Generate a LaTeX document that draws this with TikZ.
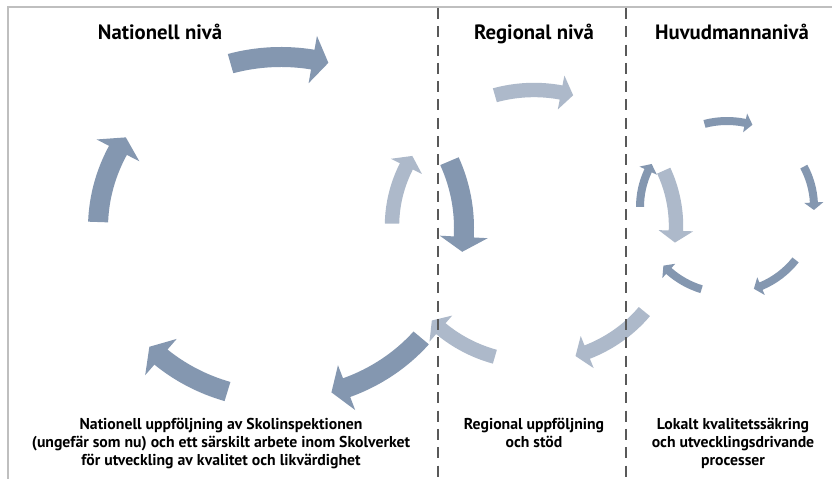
\documentclass[tikz,border=0pt]{standalone}
\usepackage{fontspec}
\setmainfont{PT Sans}
\definecolor{ringdark}{HTML}{8497B0}
\definecolor{ringlight}{HTML}{ADB9CA}
\definecolor{divider}{HTML}{595959}
\definecolor{framegray}{HTML}{BFBFBF}

% one curved arrow on an elliptic ring:
% centre x, centre y, x radius, y radius, half width, tail angle, tip angle, colour
\newcommand{\ringarrow}[8]{%
  \pgfmathsetmacro\arRo{#3+#5}\pgfmathsetmacro\arSo{#4+#5}%
  \pgfmathsetmacro\arRi{#3-#5}\pgfmathsetmacro\arSi{#4-#5}%
  \pgfmathsetmacro\arRh{#3+2.4*#5}\pgfmathsetmacro\arSh{#4+2.4*#5}%
  \pgfmathsetmacro\arRk{#3-2.4*#5}\pgfmathsetmacro\arSk{#4-2.4*#5}%
  \pgfmathsetmacro\arBase{#7+5}%
  \fill[#8,shift={(#1,#2)}] ({\arRo*cos(#6)},{\arSo*sin(#6)})
    arc[start angle=#6, end angle=\arBase, x radius=\arRo, y radius=\arSo]
    -- ({\arRh*cos(\arBase)},{\arSh*sin(\arBase)})
    -- ({#3*cos(#7)},{#4*sin(#7)})
    -- ({\arRk*cos(\arBase)},{\arSk*sin(\arBase)})
    -- ({\arRi*cos(\arBase)},{\arSi*sin(\arBase)})
    arc[start angle=\arBase, end angle=#6, x radius=\arRi, y radius=\arSi] -- cycle;}

\tikzset{
  leveltitle/.style={font=\bfseries\fontsize{20.8}{24}\selectfont, anchor=base, inner sep=0pt},
  levelnote/.style={font=\bfseries\fontsize{15.8}{18.5}\selectfont, align=center, anchor=north, inner sep=0pt},
  divline/.style={divider, line width=2.3bp, dash pattern=on 11bp off 7.3bp},
}

\begin{document}
\begin{tikzpicture}[x=1bp, y=1bp]
  \fill[white] (0,0) rectangle (832,479);
  \useasboundingbox (0,0) rectangle (832,479);
  \draw[framegray, line width=2bp] (8,0) -- (8,471.5) -- (832,471.5);

  % huvudman ring
  \foreach \from/\to in {105/73, 28/-2, -38/-72, -107/-137, 180/150}
    \ringarrow{727}{272}{87}{86}{4}{\from}{\to}{ringdark};
  % national ring
  \foreach \from/\to in {106/75, 23/-8, -40/-74, -107/-136, 178/148}
    \ringarrow{281}{251}{183}{171}{10}{\from}{\to}{ringdark};
  % regional ring
  \foreach \from/\to in {106/74, 24/-7, -39/-73, -106/-136, 179/149}
    \ringarrow{534}{253}{142}{136}{7.2}{\from}{\to}{ringlight};

  \coordinate (divA top) at (437.7,471);
  \coordinate (divA bot) at (437.7,0);
  \coordinate (divB top) at (625.7,471);
  \coordinate (divB bot) at (625.7,0);
  \draw[divline] (divA top) -- (divA bot);
  \draw[divline] (divB top) -- (divB bot);

  \node[leveltitle] (natTitle) at (160,439) {Nationell nivå};
  \node[leveltitle] (regTitle) at (534,439) {Regional nivå};
  \node[leveltitle] (huvTitle) at (732,439) {Huvudmannanivå};

  \node[levelnote] (natNote) at (221,61.5) {Nationell uppföljning av Skolinspektionen\\(ungefär som nu) och ett särskilt arbete inom Skolverket\\för utveckling av kvalitet och likvärdighet};
  \node[levelnote] (regNote) at (534,61.5) {Regional uppföljning\\och stöd};
  \node[levelnote] (huvNote) at (733,61.5) {Lokalt kvalitetssäkring\\och utvecklingsdrivande\\processer};
\end{tikzpicture}
\end{document}
